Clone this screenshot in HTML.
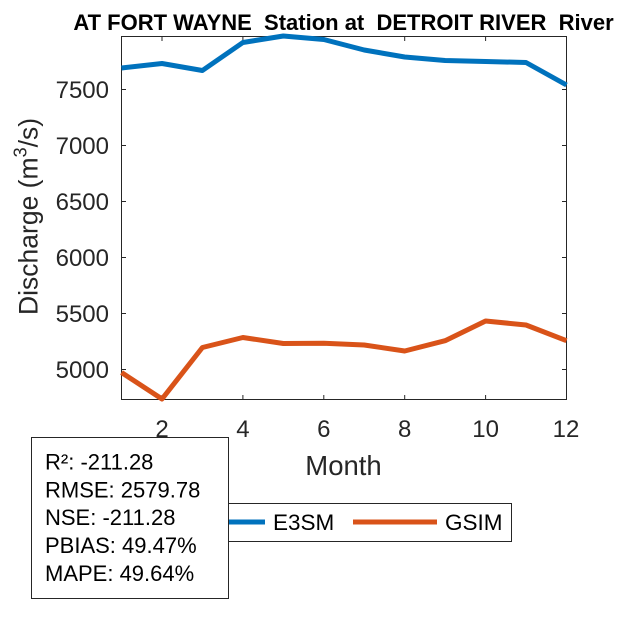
<!DOCTYPE html>
<html>
<head>
<meta charset="utf-8">
<style>
  html, body { margin: 0; padding: 0; background: #ffffff; }
  svg { display: block; }
  text { font-family: "Liberation Sans", Arial, sans-serif; fill: #262626; }
</style>
</head>
<body>
<svg width="625" height="625" viewBox="0 0 625 625" xmlns="http://www.w3.org/2000/svg">
  <rect x="0" y="0" width="625" height="625" fill="#ffffff"/>

  <!-- Title -->
  <text x="343.5" y="30" text-anchor="middle" font-size="22" font-weight="bold" xml:space="preserve" style="fill:#000; white-space:pre">AT FORT WAYNE  Station at  DETROIT RIVER  River</text>

  <!-- Axes box -->
  <rect x="121.5" y="36.5" width="445" height="363" fill="#ffffff" stroke="#262626" stroke-width="1"/>

  <!-- Ticks -->
  <g stroke="#262626" stroke-width="1">
    <line x1="162" y1="399.5" x2="162" y2="395"/>
    <line x1="242.9" y1="399.5" x2="242.9" y2="395"/>
    <line x1="323.8" y1="399.5" x2="323.8" y2="395"/>
    <line x1="404.7" y1="399.5" x2="404.7" y2="395"/>
    <line x1="485.6" y1="399.5" x2="485.6" y2="395"/>
    <line x1="162" y1="36.5" x2="162" y2="41"/>
    <line x1="242.9" y1="36.5" x2="242.9" y2="41"/>
    <line x1="323.8" y1="36.5" x2="323.8" y2="41"/>
    <line x1="404.7" y1="36.5" x2="404.7" y2="41"/>
    <line x1="485.6" y1="36.5" x2="485.6" y2="41"/>
    <line x1="121.5" y1="369.5" x2="126" y2="369.5"/>
    <line x1="121.5" y1="313.5" x2="126" y2="313.5"/>
    <line x1="121.5" y1="257.5" x2="126" y2="257.5"/>
    <line x1="121.5" y1="201.5" x2="126" y2="201.5"/>
    <line x1="121.5" y1="145.5" x2="126" y2="145.5"/>
    <line x1="121.5" y1="89.5" x2="126" y2="89.5"/>
    <line x1="566.5" y1="369.5" x2="562" y2="369.5"/>
    <line x1="566.5" y1="313.5" x2="562" y2="313.5"/>
    <line x1="566.5" y1="257.5" x2="562" y2="257.5"/>
    <line x1="566.5" y1="201.5" x2="562" y2="201.5"/>
    <line x1="566.5" y1="145.5" x2="562" y2="145.5"/>
    <line x1="566.5" y1="89.5" x2="562" y2="89.5"/>
  </g>

  <!-- Y tick labels -->
  <g font-size="24" text-anchor="end">
    <text x="109" y="378">5000</text>
    <text x="109" y="322">5500</text>
    <text x="109" y="266">6000</text>
    <text x="109" y="210">6500</text>
    <text x="109" y="154">7000</text>
    <text x="109" y="98">7500</text>
  </g>

  <!-- X tick labels -->
  <g font-size="24" text-anchor="middle">
    <text x="162" y="437">2</text>
    <text x="242.9" y="437">4</text>
    <text x="323.8" y="437">6</text>
    <text x="404.7" y="437">8</text>
    <text x="485.6" y="437">10</text>
    <text x="566" y="437">12</text>
  </g>

  <!-- Axis labels -->
  <text x="343.5" y="475" text-anchor="middle" font-size="27.5">Month</text>
  <g transform="translate(37.5,315) rotate(-90)">
    <text x="0" y="0" font-size="26.5">Discharge (m<tspan font-size="18" dy="-11">3</tspan><tspan dy="11">/s)</tspan></text>
  </g>

  <!-- Series -->
  <polyline fill="none" stroke="#0072BD" stroke-width="5" stroke-linejoin="round"
    points="121.5,68 162,63.5 202.4,70.5 242.9,42.5 283.3,36 323.8,39.5 364.2,50 404.7,57 445.1,60.5 485.6,61.5 526,62.5 566.5,85"/>
  <polyline fill="none" stroke="#D95319" stroke-width="5" stroke-linejoin="round"
    points="121.5,372.5 162,399 202.4,347.5 242.9,337.5 283.3,343.5 323.8,343.3 364.2,345 404.7,351 445.1,340.7 485.6,321 526,325 566.5,340.7"/>

  <!-- Legend -->
  <rect x="176.5" y="503.5" width="335" height="38" fill="#ffffff" stroke="#262626" stroke-width="1"/>
  <line x1="181" y1="522" x2="265" y2="522" stroke="#0072BD" stroke-width="5"/>
  <text x="273" y="530" font-size="22.5" style="fill:#000">E3SM</text>
  <line x1="353" y1="522" x2="437" y2="522" stroke="#D95319" stroke-width="5"/>
  <text x="445" y="530" font-size="22.5" style="fill:#000">GSIM</text>

  <!-- Stats box -->
  <rect x="31.5" y="437.5" width="197" height="161" fill="#ffffff" stroke="#262626" stroke-width="1"/>
  <g font-size="22">
    <text x="45" y="469.5" style="fill:#000">R²: -211.28</text>
    <text x="45" y="497.5" style="fill:#000">RMSE: 2579.78</text>
    <text x="45" y="525" style="fill:#000">NSE: -211.28</text>
    <text x="45" y="553" style="fill:#000">PBIAS: 49.47%</text>
    <text x="45" y="581" style="fill:#000">MAPE: 49.64%</text>
  </g>
</svg>
</body>
</html>
